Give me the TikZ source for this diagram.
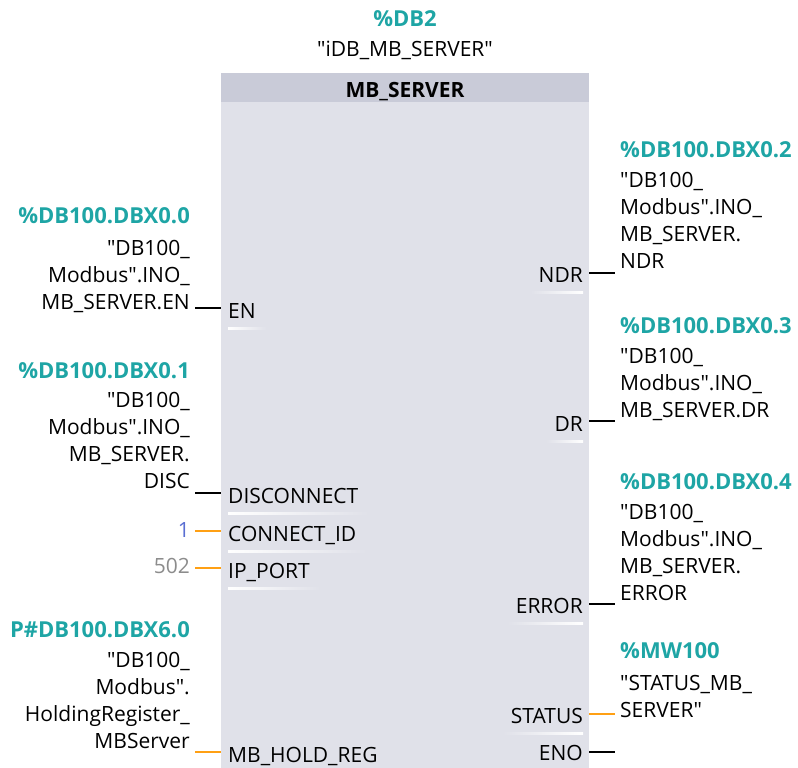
\documentclass[tikz,border=0pt]{standalone}
\usepackage{fontspec}
\setmainfont{Open Sans}[Ligatures=TeXOff]
\usetikzlibrary{calc}
\definecolor{tagteal}{RGB}{30,165,165}
\definecolor{wireorange}{RGB}{255,160,20}
\definecolor{blockbody}{RGB}{224,225,233}
\definecolor{blockhead}{RGB}{201,203,216}
\definecolor{constblue}{RGB}{90,110,210}
\definecolor{constgray}{RGB}{140,140,140}
\newcommand{\qt}{\symbol{34}}
\begin{document}
\begin{tikzpicture}[x=1pt,y=-1pt]
\tikzset{txt/.style = {inner sep=0pt, font=\fontsize{21}{27}\selectfont}}
\tikzset{pinl/.style = {txt, anchor=base west}}
\tikzset{pinr/.style = {txt, anchor=base east}}
\tikzset{tagl/.style = {txt, align=right, anchor=base east}}
\tikzset{tagr/.style = {txt, align=left, anchor=base west}}
\tikzset{addr/.style = {txt, text=tagteal, font=\fontsize{22}{27}\selectfont\bfseries}}
\tikzset{wire/.style = {line width=2.2pt, black}}
\tikzset{owire/.style = {wire, wireorange}}
\useasboundingbox (0,0) rectangle (798,768);
% block
\node[fill=blockbody, inner sep=0pt, anchor=north west, minimum width=368pt, minimum height=695pt] (blk) at (221,73) {};
\node[fill=blockhead, inner sep=0pt, anchor=north west, minimum width=368pt, minimum height=29pt] (head) at (221,73) {};
\node[txt, font=\fontsize{21}{27}\selectfont\bfseries, anchor=base] (title) at (405,97) {MB\_SERVER};
\node[addr, anchor=base] (db) at (405,27) {\%DB2};
\node[txt, anchor=base] (idb) at (405,57) {\qt iDB\_MB\_SERVER\qt};
% left pins
\node[pinl] (en) at (228,318) {EN};
\node[pinl] (disc) at (228,503) {DISCONNECT};
\node[pinl] (cid) at (228,541) {CONNECT\_ID};
\node[pinl] (port) at (228,578) {IP\_PORT};
\node[pinl] (hold) at (228,762) {MB\_HOLD\_REG};
% right pins
\node[pinr] (ndr) at (583,282) {NDR};
\node[pinr] (dr) at (583,431) {DR};
\node[pinr] (err) at (583,613) {ERROR};
\node[pinr] (stat) at (583,723) {STATUS};
\node[pinr] (eno) at (583,760) {ENO};
% pin underlines
\foreach \p in {en,disc,cid,port,hold}
  \shade[left color=white, right color=blockbody] ($(\p.base west)+(0,9)$) rectangle ($(\p.base east)+(10,11)$);
\foreach \p in {ndr,dr,err,stat,eno}
  \shade[left color=blockbody, right color=white] ($(\p.base west)+(-8,9)$) rectangle ($(\p.base east)+(0,11)$);
% left operands
\node[addr, anchor=base east] (aen) at (190,223) {\%DB100.DBX0.0};
\node[tagl] (oen) at (190,309) {\qt DB100\_\\Modbus\qt.INO\_\\MB\_SERVER.EN};
\node[addr, anchor=base east] (adisc) at (190,378) {\%DB100.DBX0.1};
\node[tagl] (odisc) at (190,488) {\qt DB100\_\\Modbus\qt.INO\_\\MB\_SERVER.\\DISC};
\node[txt, anchor=base east, text=constblue] (ocid) at (190,537) {1};
\node[txt, anchor=base east, text=constgray] (oport) at (190,573) {502};
\node[addr, anchor=base east] (ahold) at (190,637) {P\#DB100.DBX6.0};
\node[tagl] (ohold) at (190,748) {\qt DB100\_\\Modbus\qt.\\HoldingRegister\_\\MBServer};
% right operands
\node[addr, anchor=base west] (andr) at (620,157) {\%DB100.DBX0.2};
\node[tagr] (ondr) at (620,268) {\qt DB100\_\\Modbus\qt.INO\_\\MB\_SERVER.\\NDR};
\node[addr, anchor=base west] (adr) at (620,333) {\%DB100.DBX0.3};
\node[tagr] (odr) at (620,417) {\qt DB100\_\\Modbus\qt.INO\_\\MB\_SERVER.DR};
\node[addr, anchor=base west] (aerr) at (620,489) {\%DB100.DBX0.4};
\node[tagr] (oerr) at (620,600) {\qt DB100\_\\Modbus\qt.INO\_\\MB\_SERVER.\\ERROR};
\node[addr, anchor=base west] (astat) at (620,658) {\%MW100};
\node[tagr] (ostat) at (620,717) {\qt STATUS\_MB\_\\SERVER\qt};
% wire ends
\coordinate (wen) at (195,308);
\coordinate (wdisc) at (195,493);
\coordinate (wcid) at (195,531);
\coordinate (wport) at (195,568);
\coordinate (whold) at (195,752);
\coordinate (wndr) at (615,273);
\coordinate (wdr) at (615,421);
\coordinate (werr) at (615,604);
\coordinate (wstat) at (615,714);
\coordinate (weno) at (615,752);
% wires
\draw[wire] (wen) -- (wen -| blk.west);
\draw[wire] (wdisc) -- (wdisc -| blk.west);
\draw[owire] (wcid) -- (wcid -| blk.west);
\draw[owire] (wport) -- (wport -| blk.west);
\draw[owire] (whold) -- (whold -| blk.west);
\draw[wire] (wndr -| blk.east) -- (wndr);
\draw[wire] (wdr -| blk.east) -- (wdr);
\draw[wire] (werr -| blk.east) -- (werr);
\draw[owire] (wstat -| blk.east) -- (wstat);
\draw[wire] (weno -| blk.east) -- (weno);
\end{tikzpicture}
\end{document}
